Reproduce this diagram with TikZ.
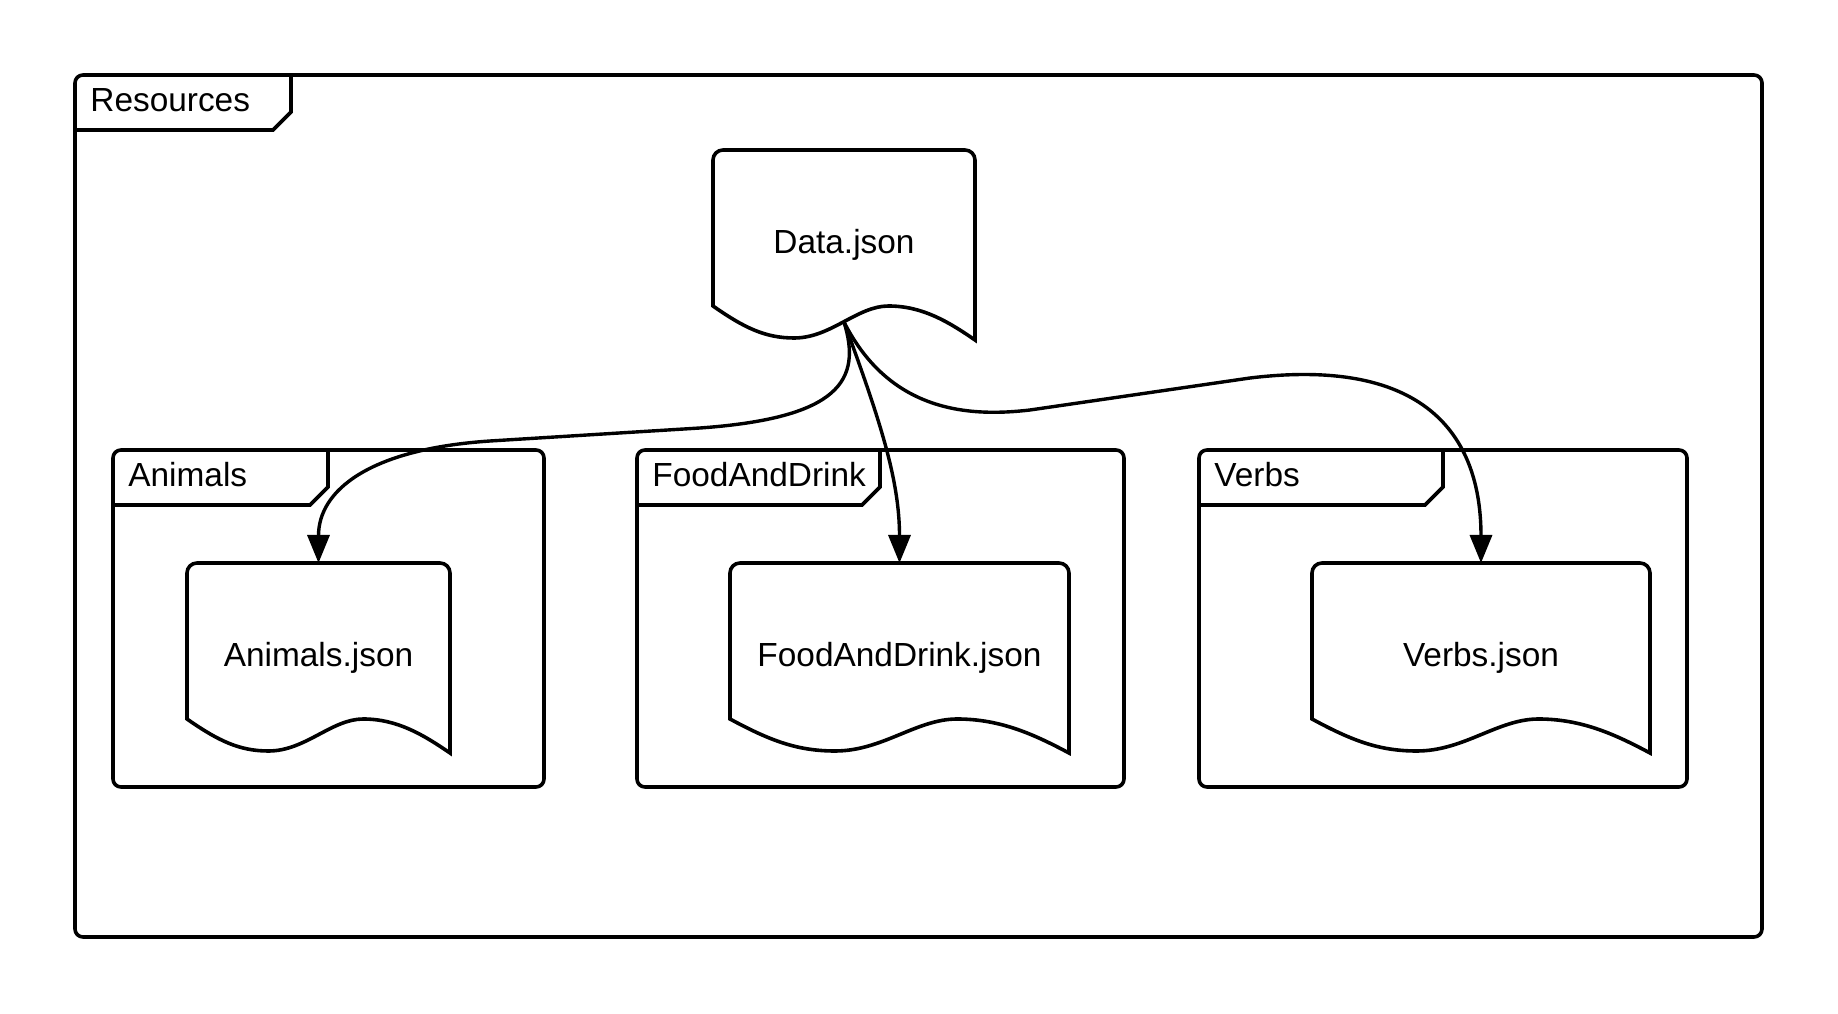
\documentclass[tikz,border=0pt]{standalone}
\usepackage{fontspec}
\setmainfont{Liberation Sans}
\usetikzlibrary{arrows.meta}

% package frame: name, left, top, right, bottom, tab right, label
\newcommand{\pkgframe}[7]{%
  \draw[frame] (#2,#3-8) arc[start angle=180,end angle=90,radius=4pt] -- (#4-8,#3)
    arc[start angle=90,end angle=0,radius=4pt] -- (#4,#5+8)
    arc[start angle=0,end angle=-90,radius=4pt] -- (#2+8,#5)
    arc[start angle=270,end angle=180,radius=4pt] -- cycle;
  \draw[frame] (#6,#3) -- (#6,#3-37) -- (#6-18,#3-55) -- (#2,#3-55);
  \node[tablabel] (#1) at (#2+15,#3-37) {#7};
}

% json file: name, centre x, top, width, label
\newcommand{\jsonfile}[5]{%
  \node[filelabel] (#1) at (#2,#3-95) {#5};
  \coordinate (#1-in) at (#2,#3);
  \coordinate (#1-out) at (#2,#3-172);
  \draw[frame] (#2-#4/2,#3-156) -- (#2-#4/2,#3-10)
    arc[start angle=180,end angle=90,radius=5pt] -- (#2+#4/2-10,#3)
    arc[start angle=90,end angle=0,radius=5pt] -- (#2+#4/2,#3-190)
    .. controls (#2+0.4*#4,#3-172) and (#2+0.3*#4,#3-156) .. (#2+0.17*#4,#3-156)
    .. controls (#2+0.05*#4,#3-156) and (#2-0.05*#4,#3-188) .. (#2-0.19*#4,#3-188)
    .. controls (#2-0.3*#4,#3-188) and (#2-0.38*#4,#3-178) .. (#2-#4/2,#3-156) -- cycle;
}

\begin{document}
\begin{tikzpicture}[x=0.5pt, y=0.5pt,
    frame/.style={line width=1.8pt},
    flow/.style={line width=1.7pt, -{Triangle[length=14pt,width=11pt]}},
    tablabel/.style={anchor=base west, inner sep=0pt, font=\fontsize{16.7}{20}\selectfont},
    filelabel/.style={inner sep=0pt, font=\fontsize{16.7}{20}\selectfont}]
  \fill[white] (0,0) rectangle (1838,1013);
  \useasboundingbox (0,0) rectangle (1838,1013);

  \pkgframe{resources}{75}{938}{1762}{76}{291}{Resources}
  \pkgframe{pkg-animals}{113}{563}{544}{226}{328}{Animals}
  \pkgframe{pkg-food}{637}{563}{1124}{226}{880}{FoodAndDrink}
  \pkgframe{pkg-verbs}{1199}{563}{1687}{226}{1443}{Verbs}

  \jsonfile{data}{844}{863}{262}{Data.json}
  \jsonfile{animals}{318.5}{450}{263}{Animals.json}
  \jsonfile{food}{899.5}{450}{339}{FoodAndDrink.json}
  \jsonfile{verbs}{1481}{450}{338}{Verbs.json}

  \draw[flow] (data-out) .. controls (862,633) and (840,595) .. (700,585)
    -- (490,572) .. controls (370,564) and (318.5,523) .. (animals-in);
  \draw[flow] (data-out) .. controls (880,593) and (899.5,533) .. (food-in);
  \draw[flow] (data-out) .. controls (890,600) and (970,596) .. (1030,603)
    -- (1250,635) .. controls (1440,658) and (1481,563) .. (verbs-in);
\end{tikzpicture}
\end{document}
